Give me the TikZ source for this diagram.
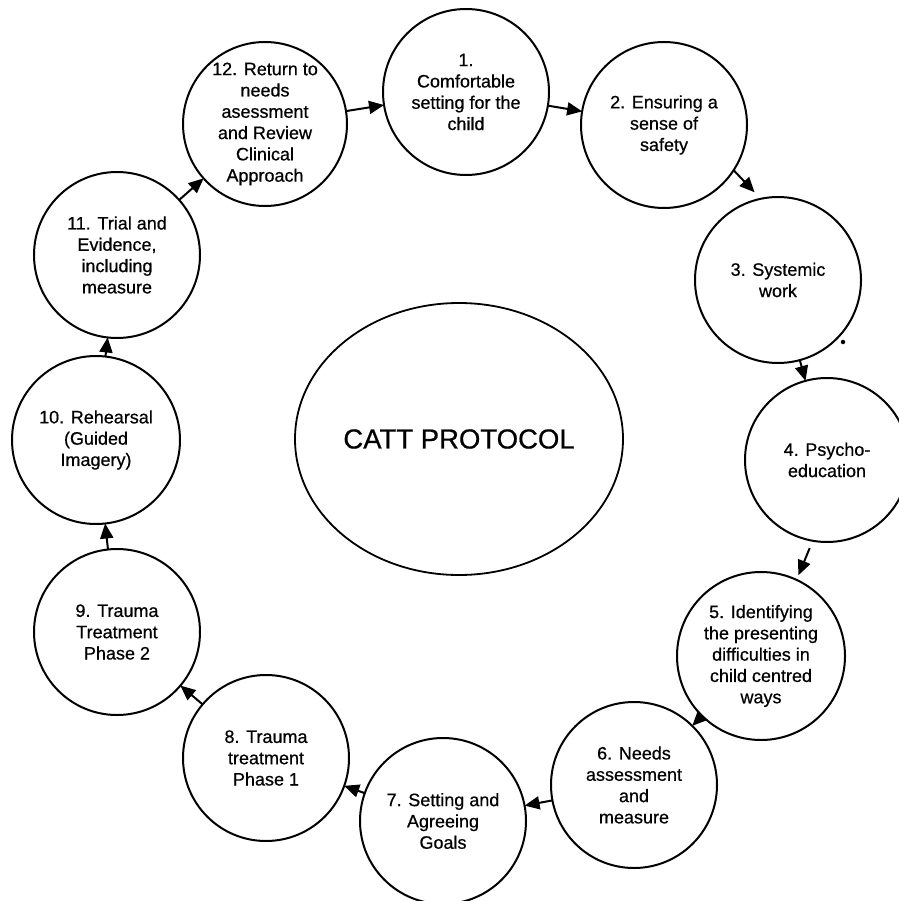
\documentclass[tikz,border=0pt]{standalone}
\usepackage{fontspec}
\setmainfont{Liberation Sans}[FakeBold=0.6]
\usetikzlibrary{arrows.meta,shapes.geometric}
\begin{document}
\begin{tikzpicture}[x=1pt,y=-1pt,
  stage/.style={circle, draw, line width=2pt, inner sep=0pt, outer sep=0pt,
    minimum size=166pt, align=center, font=\fontsize{18}{21.3}\selectfont},
  hub/.style={ellipse, draw, line width=1.8pt, inner sep=0pt, outer sep=0pt,
    minimum width=328pt, minimum height=272pt, font=\fontsize{27.5}{30}\selectfont},
  arr/.style={line width=2pt, -{Triangle[length=15pt,width=13pt]}},
  speck/.style={circle, fill, inner sep=0pt, minimum size=4.5pt}]
\useasboundingbox (0,0) rectangle (898,901);

\node[hub] (hub) at (459,439) {CATT PROTOCOL};

\node[stage] (n1) at (466,92) {1.\\Comfortable\\setting for the\\child};
\node[stage] (n2) at (664,125) {2. Ensuring a\\sense of\\safety};
\node[stage] (n3) at (778,280) {3. Systemic\\work};
\node[stage, minimum size=164pt] (n4) at (827,460) {4. Psycho-\\education};
\node[stage, minimum size=168pt] (n5) at (761,656) {5. Identifying\\the presenting\\difficulties in\\child centred\\ways};
\node[stage] (n6) at (634,785) {6. Needs\\assessment\\and\\measure};
\node[stage] (n7) at (443,821) {7. Setting and\\Agreeing\\Goals};
\node[stage] (n8) at (266,758) {8. Trauma\\treatment\\Phase 1};
\node[stage] (n9) at (117,632) {9. Trauma\\Treatment\\Phase 2};
\node[stage, minimum size=168pt] (n10) at (96,440) {10. Rehearsal\\(Guided\\Imagery)};
\node[stage] (n11) at (117,255) {11. Trial and\\Evidence,\\including\\measure};
\node[stage, minimum size=164pt] (n12) at (265,124) {12. Return to\\needs\\asessment\\and Review\\Clinical\\Approach};

\node[speck] (dot) at (843,342) {};

\draw[arr] (n12) -- (n1);
\draw[arr] (n1) -- (n2);
\draw[arr, shorten >=9pt] (n2.-33.5) -- (n3.102.5);
\draw[arr] (n3) -- (n4);
\draw[arr, shorten <=8pt, shorten >=5pt] (n4.-100.7) -- (n5.65.5);
\draw[arr, shorten <=-8pt] (n5) -- (n6);
\draw[arr] (n6) -- (n7);
\draw[arr] (n7) -- (n8);
\draw[arr] (n8) -- (n9);
\draw[arr] (n9) -- (n10);
\draw[arr] (n10) -- (n11);
\draw[arr] (n11) -- (n12);
\end{tikzpicture}
\end{document}
